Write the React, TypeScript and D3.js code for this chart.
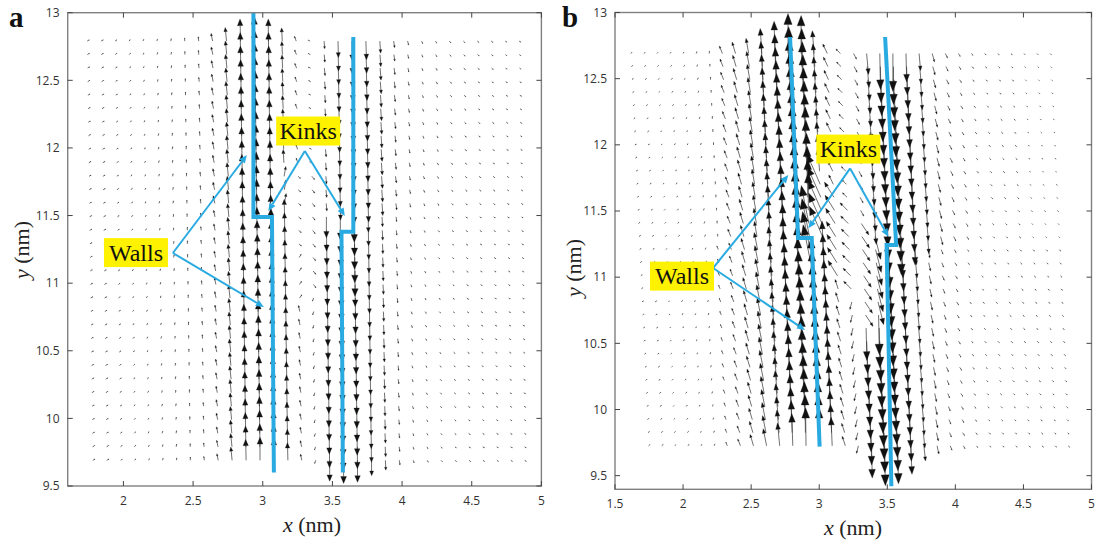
import React, { useMemo } from 'react';
import * as d3 from 'd3';

// ---------------- data ----------------
const aXTicks = [2, 2.5, 3, 3.5, 4, 4.5, 5];
const aYTicks = [9.5, 10, 10.5, 11, 11.5, 12, 12.5, 13];
const bXTicks = [1.5, 2, 2.5, 3, 3.5, 4, 4.5, 5];
const bYTicks = [9.5, 10, 10.5, 11, 11.5, 12, 12.5, 13];

// quiver grids (nm): first column x, column step, per-row lateral drift, first row y, row step
const aGrid = { x0: 1.74, dx: 0.1, shear: 0.0013, y0: 12.79, dy: 0.1, cols: 32, rows: 32, kinkRow: 13 };
const bGrid = { x0: 1.615, dx: 0.0963, shear: 0.0044, y0: 12.69, dy: 0.0988, cols: 33, rows: 31, kinkRow: 15 };

// panel a: column vector components above / below the kinks (relative units)
const aTopV = [0.06, 0.06, 0.06, 0.07, 0.08, 0.1, 0.12, 0.15, 0.2, 0.35, 0.62, 1.0, 1.1, 1.0, 0.6, 0.22, 0.05, -0.35, -0.75, -0.9, -0.85, -0.55, -0.3, -0.18, -0.12, -0.1, -0.08, -0.07, -0.06, -0.06, -0.05, -0.05];
const aTopU = [0.1, 0.1, 0.08, 0.06, 0.04, 0.03, 0.02, 0, -0.02, -0.07, -0.06, -0.02, 0, 0, -0.03, -0.08, -0.1, 0.03, 0.02, 0.02, 0.03, 0.04, 0.04, 0.04, 0.05, 0.06, 0.07, 0.08, 0.08, 0.08, 0.08, 0.08];
const aBotV = [0.06, 0.06, 0.06, 0.07, 0.08, 0.1, 0.12, 0.15, 0.18, 0.3, 0.6, 0.95, 1.05, 1.0, 0.8, 0.28, -0.15, -0.95, -1.05, -1.0, -0.7, -0.45, -0.22, -0.12, -0.09, -0.07, -0.06, -0.06, -0.05, -0.05, -0.05, -0.05];
const aBotU = [0.1, 0.1, 0.08, 0.06, 0.04, 0.03, 0.02, 0, -0.02, -0.06, -0.06, -0.02, 0, 0, -0.02, -0.06, -0.05, 0, 0, 0, 0.01, 0.02, 0.03, 0.04, 0.05, 0.06, 0.07, 0.08, 0.08, 0.08, 0.08, 0.08];
// [rowFrom, rowTo, col, u, v]
const aSwirl = [
  [10, 15, 15, 0.12, -0.1],
  [16, 19, 15, 0.1, 0.15],
  [10, 18, 16, 0.12, -0.15],
  [10, 12, 14, 0.08, 0.45],
  [13, 17, 19, 0.0, -1.15],
];

// panel b
const bTopV = [0.03, 0.03, 0.03, 0.04, 0.04, 0.05, 0.07, 0.2, 0.3, 0.4, 0.66, 0.85, 1.05, 1.0, 0.6, 0.25, 0.12, -0.15, -0.55, -0.95, -1.0, -0.75, -0.45, -0.22, -0.12, -0.08, -0.05, -0.04, -0.04, -0.04, -0.03, -0.03, -0.03];
const bTopU = [0.04, 0.04, 0.03, 0.03, 0.02, 0.02, 0, -0.08, -0.09, -0.07, -0.04, -0.02, 0, 0, -0.05, -0.12, -0.12, 0.08, 0.05, 0.02, 0, 0.02, 0.04, 0.06, 0.06, 0.05, 0.04, 0.04, 0.04, 0.04, 0.03, 0.03, 0.03];
const bBotV = [0.03, 0.03, 0.03, 0.04, 0.04, 0.05, 0.1, 0.18, 0.3, 0.45, 0.6, 0.85, 1.0, 1.0, 0.75, 0.25, -0.2, -0.85, -1.05, -1.0, -0.75, -0.4, -0.22, -0.12, -0.08, -0.05, -0.04, -0.04, -0.04, -0.04, -0.04, -0.04, -0.04];
const bBotU = [0.04, 0.04, 0.03, 0.03, 0.02, 0.02, -0.04, -0.07, -0.09, -0.09, -0.06, -0.03, -0.01, 0, -0.03, -0.08, -0.05, 0.02, 0.02, 0.02, 0.03, 0.04, 0.05, 0.05, 0.05, 0.04, 0.04, 0.04, 0.04, 0.04, 0.04, 0.04, 0.04];
const bSwirl = [
  [10, 14, 14, -0.35, 0.8],
  [13, 16, 13, -0.2, 1.0],
  [11, 17, 15, -0.25, 0.4],
  [12, 18, 16, -0.2, 0.2],
  [13, 20, 17, 0.2, -0.3],
  [14, 19, 18, 0.15, -0.6],
];

// domain walls (nm)
const aWallLeft = [[2.933, 13.0], [2.933, 11.49], [3.066, 11.49], [3.08, 9.6]];
const aWallRight = [[3.65, 12.82], [3.65, 11.38], [3.565, 11.38], [3.575, 9.6]];
const bWallLeft = [[2.786, 12.815], [2.845, 11.296], [2.945, 11.296], [3.003, 9.72]];
const bWallRight = [[3.484, 12.815], [3.565, 11.243], [3.495, 11.243], [3.53, 9.42]];

// annotations (nm)
const aWallsNote = { text: 'Walls', at: [2.09, 11.226], from: [2.355, 11.223], to: [[2.886, 11.947], [3.008, 10.823]] };
const aKinksNote = { text: 'Kinks', at: [3.326, 12.125], from: [3.302, 11.977], to: [[3.04, 11.533], [3.589, 11.496]] };
const bWallsNote = { text: 'Walls', at: [1.992, 11.008], from: [2.22, 11.069], to: [[2.773, 11.772], [2.896, 10.6]] };
const bKinksNote = { text: 'Kinks', at: [3.214, 11.968], from: [3.227, 11.822], to: [[2.92, 11.369], [3.508, 11.305]] };

// ---------------- drawing ----------------
const BLUE = '#29abe2';
const YELLOW = '#fff200';

function quiver(grid, topV, topU, botV, botU, swirl, xs, ys, S, headRatio, headWidth) {
  let shafts = '';
  let heads = '';
  for (let j = 0; j < grid.rows; j++) {
    for (let k = 0; k < grid.cols; k++) {
      let u = j < grid.kinkRow ? topU[k] : botU[k];
      let v = j < grid.kinkRow ? topV[k] : botV[k];
      for (const o of swirl) {
        if (j >= o[0] && j <= o[1] && k === o[2]) { u = o[3]; v = o[4]; }
      }
      const x = grid.x0 + grid.dx * k + grid.shear * j;
      const y = grid.y0 - grid.dy * j;
      const px = xs(x), py = ys(y);
      const ex = u * S, ey = -v * S;
      const L = Math.hypot(ex, ey);
      if (L < 0.2) continue;
      const ux = ex / L, uy = ey / L;
      const tx = px + ex, ty = py + ey;
      const h = headRatio * L, hw = headWidth * h;
      const bx = tx - ux * h, by = ty - uy * h;
      shafts += `M${px.toFixed(1)},${py.toFixed(1)}L${bx.toFixed(1)},${by.toFixed(1)}`;
      heads += `M${tx.toFixed(1)},${ty.toFixed(1)}L${(bx - uy * hw).toFixed(1)},${(by + ux * hw).toFixed(1)}L${(bx + uy * hw).toFixed(1)},${(by - ux * hw).toFixed(1)}Z`;
    }
  }
  return { shafts, heads };
}

function Note({ note, xs, ys }) {
  const [fx, fy] = [xs(note.from[0]), ys(note.from[1])];
  const cx = xs(note.at[0]), cy = ys(note.at[1]);
  return (
    <g>
      {note.to.map((t, i) => {
        const tx = xs(t[0]), ty = ys(t[1]);
        const L = Math.hypot(tx - fx, ty - fy);
        const ux = (tx - fx) / L, uy = (ty - fy) / L;
        const h = 8, hw = 3.5;
        const bx = tx - ux * h, by = ty - uy * h;
        return (
          <g key={i}>
            <line x1={fx} y1={fy} x2={bx} y2={by} stroke={BLUE} strokeWidth={2} />
            <path d={`M${tx},${ty}L${bx - uy * hw},${by + ux * hw}L${bx + uy * hw},${by - ux * hw}Z`} fill={BLUE} />
          </g>
        );
      })}
      <rect x={cx - 32} y={cy - 14.5} width={64} height={29} fill={YELLOW} />
      <text x={cx} y={cy + 8} textAnchor="middle" fontFamily="Liberation Serif, Times New Roman, serif" fontSize={24} fill="#111">{note.text}</text>
    </g>
  );
}

function Panel({ cfg }) {
  const xs = d3.scaleLinear().domain(cfg.xDomain).range(cfg.xRange);
  const ys = d3.scaleLinear().domain(cfg.yDomain).range(cfg.yRange);
  const q = useMemo(() => quiver(cfg.grid, cfg.topV, cfg.topU, cfg.botV, cfg.botU, cfg.swirl, xs, ys, cfg.scale, cfg.headRatio, cfg.headWidth), []);
  const [x0, x1] = cfg.xRange;
  const [yB, yT] = cfg.yRange;
  const wallLine = d3.line().x((d) => xs(d[0])).y((d) => ys(d[1]));
  const tickFont = 'Open Sans, DejaVu Sans, sans-serif';
  return (
    <g>
      <path d={q.shafts} stroke="#333" strokeWidth={0.7} fill="none" />
      <path d={q.heads} fill="#111" stroke="#111" strokeWidth={0.3} />
      <path d={wallLine(cfg.wallLeft)} stroke={BLUE} strokeWidth={4} fill="none" strokeLinejoin="miter" />
      <path d={wallLine(cfg.wallRight)} stroke={BLUE} strokeWidth={4} fill="none" strokeLinejoin="miter" />
      <Note note={cfg.walls} xs={xs} ys={ys} />
      <Note note={cfg.kinks} xs={xs} ys={ys} />
      <rect x={x0} y={yT} width={x1 - x0} height={yB - yT} fill="none" stroke="#808080" strokeWidth={1.4} />
      {cfg.xTicks.map((t) => (
        <g key={'x' + t}>
          <line x1={xs(t)} x2={xs(t)} y1={yB} y2={yB - 5} stroke="#444" />
          <line x1={xs(t)} x2={xs(t)} y1={yT} y2={yT + 5} stroke="#444" />
          <text x={xs(t)} y={yB + 19} textAnchor="middle" fontFamily={tickFont} fontSize={12} fill="#333">{t}</text>
        </g>
      ))}
      {cfg.yTicks.map((t) => (
        <g key={'y' + t}>
          <line x1={x0} x2={x0 + 5} y1={ys(t)} y2={ys(t)} stroke="#444" />
          <line x1={x1} x2={x1 - 5} y1={ys(t)} y2={ys(t)} stroke="#444" />
          <text x={cfg.yLabelX} y={ys(t) + 4.3} textAnchor="end" fontFamily={tickFont} fontSize={12} fill="#333">{t}</text>
        </g>
      ))}
      <text x={cfg.xTitleX} y={yB + 46} textAnchor="middle" fontFamily="Liberation Serif, Times New Roman, serif" fontSize={22} fill="#222">
        <tspan fontStyle="italic">x</tspan> (nm)
      </text>
      <text transform={`translate(${cfg.yTitle[0]},${cfg.yTitle[1]}) rotate(-90)`} textAnchor="middle" fontFamily="Liberation Serif, Times New Roman, serif" fontSize={22} fill="#222">
        <tspan fontStyle="italic">y</tspan> (nm)
      </text>
      <text x={cfg.letter[0]} y={cfg.letter[1]} fontFamily="Liberation Serif, Times New Roman, serif" fontWeight="bold" fontSize={29} fill="#111">{cfg.id}</text>
    </g>
  );
}

const panelA = {
  id: 'a', xDomain: [1.6, 5], xRange: [67.7, 541.4], yDomain: [9.5, 13], yRange: [486, 12.7],
  xTicks: aXTicks, yTicks: aYTicks, grid: aGrid, topV: aTopV, topU: aTopU, botV: aBotV, botU: aBotU, swirl: aSwirl,
  scale: 22, headRatio: 0.3, headWidth: 0.42, wallLeft: aWallLeft, wallRight: aWallRight, walls: aWallsNote, kinks: aKinksNote,
  yLabelX: 59.5, xTitleX: 312, yTitle: [29, 250], letter: [9, 27],
};
const panelB = {
  id: 'b', xDomain: [1.5, 5], xRange: [615, 1091.5], yDomain: [9.397, 13], yRange: [489.3, 12.5],
  xTicks: bXTicks, yTicks: bYTicks, grid: bGrid, topV: bTopV, topU: bTopU, botV: bBotV, botU: bBotU, swirl: bSwirl,
  scale: 38, headRatio: 0.27, headWidth: 0.38, wallLeft: bWallLeft, wallRight: bWallRight, walls: bWallsNote, kinks: bKinksNote,
  yLabelX: 607, xTitleX: 853, yTitle: [581, 268], letter: [562, 27],
};

export default function App() {
  return (
    <svg width={1103} height={545} style={{ position: 'absolute', left: 0, top: 0, background: '#fff' }}>
      <rect width={1103} height={545} fill="#fff" />
      <Panel cfg={panelA} />
      <Panel cfg={panelB} />
    </svg>
  );
}
